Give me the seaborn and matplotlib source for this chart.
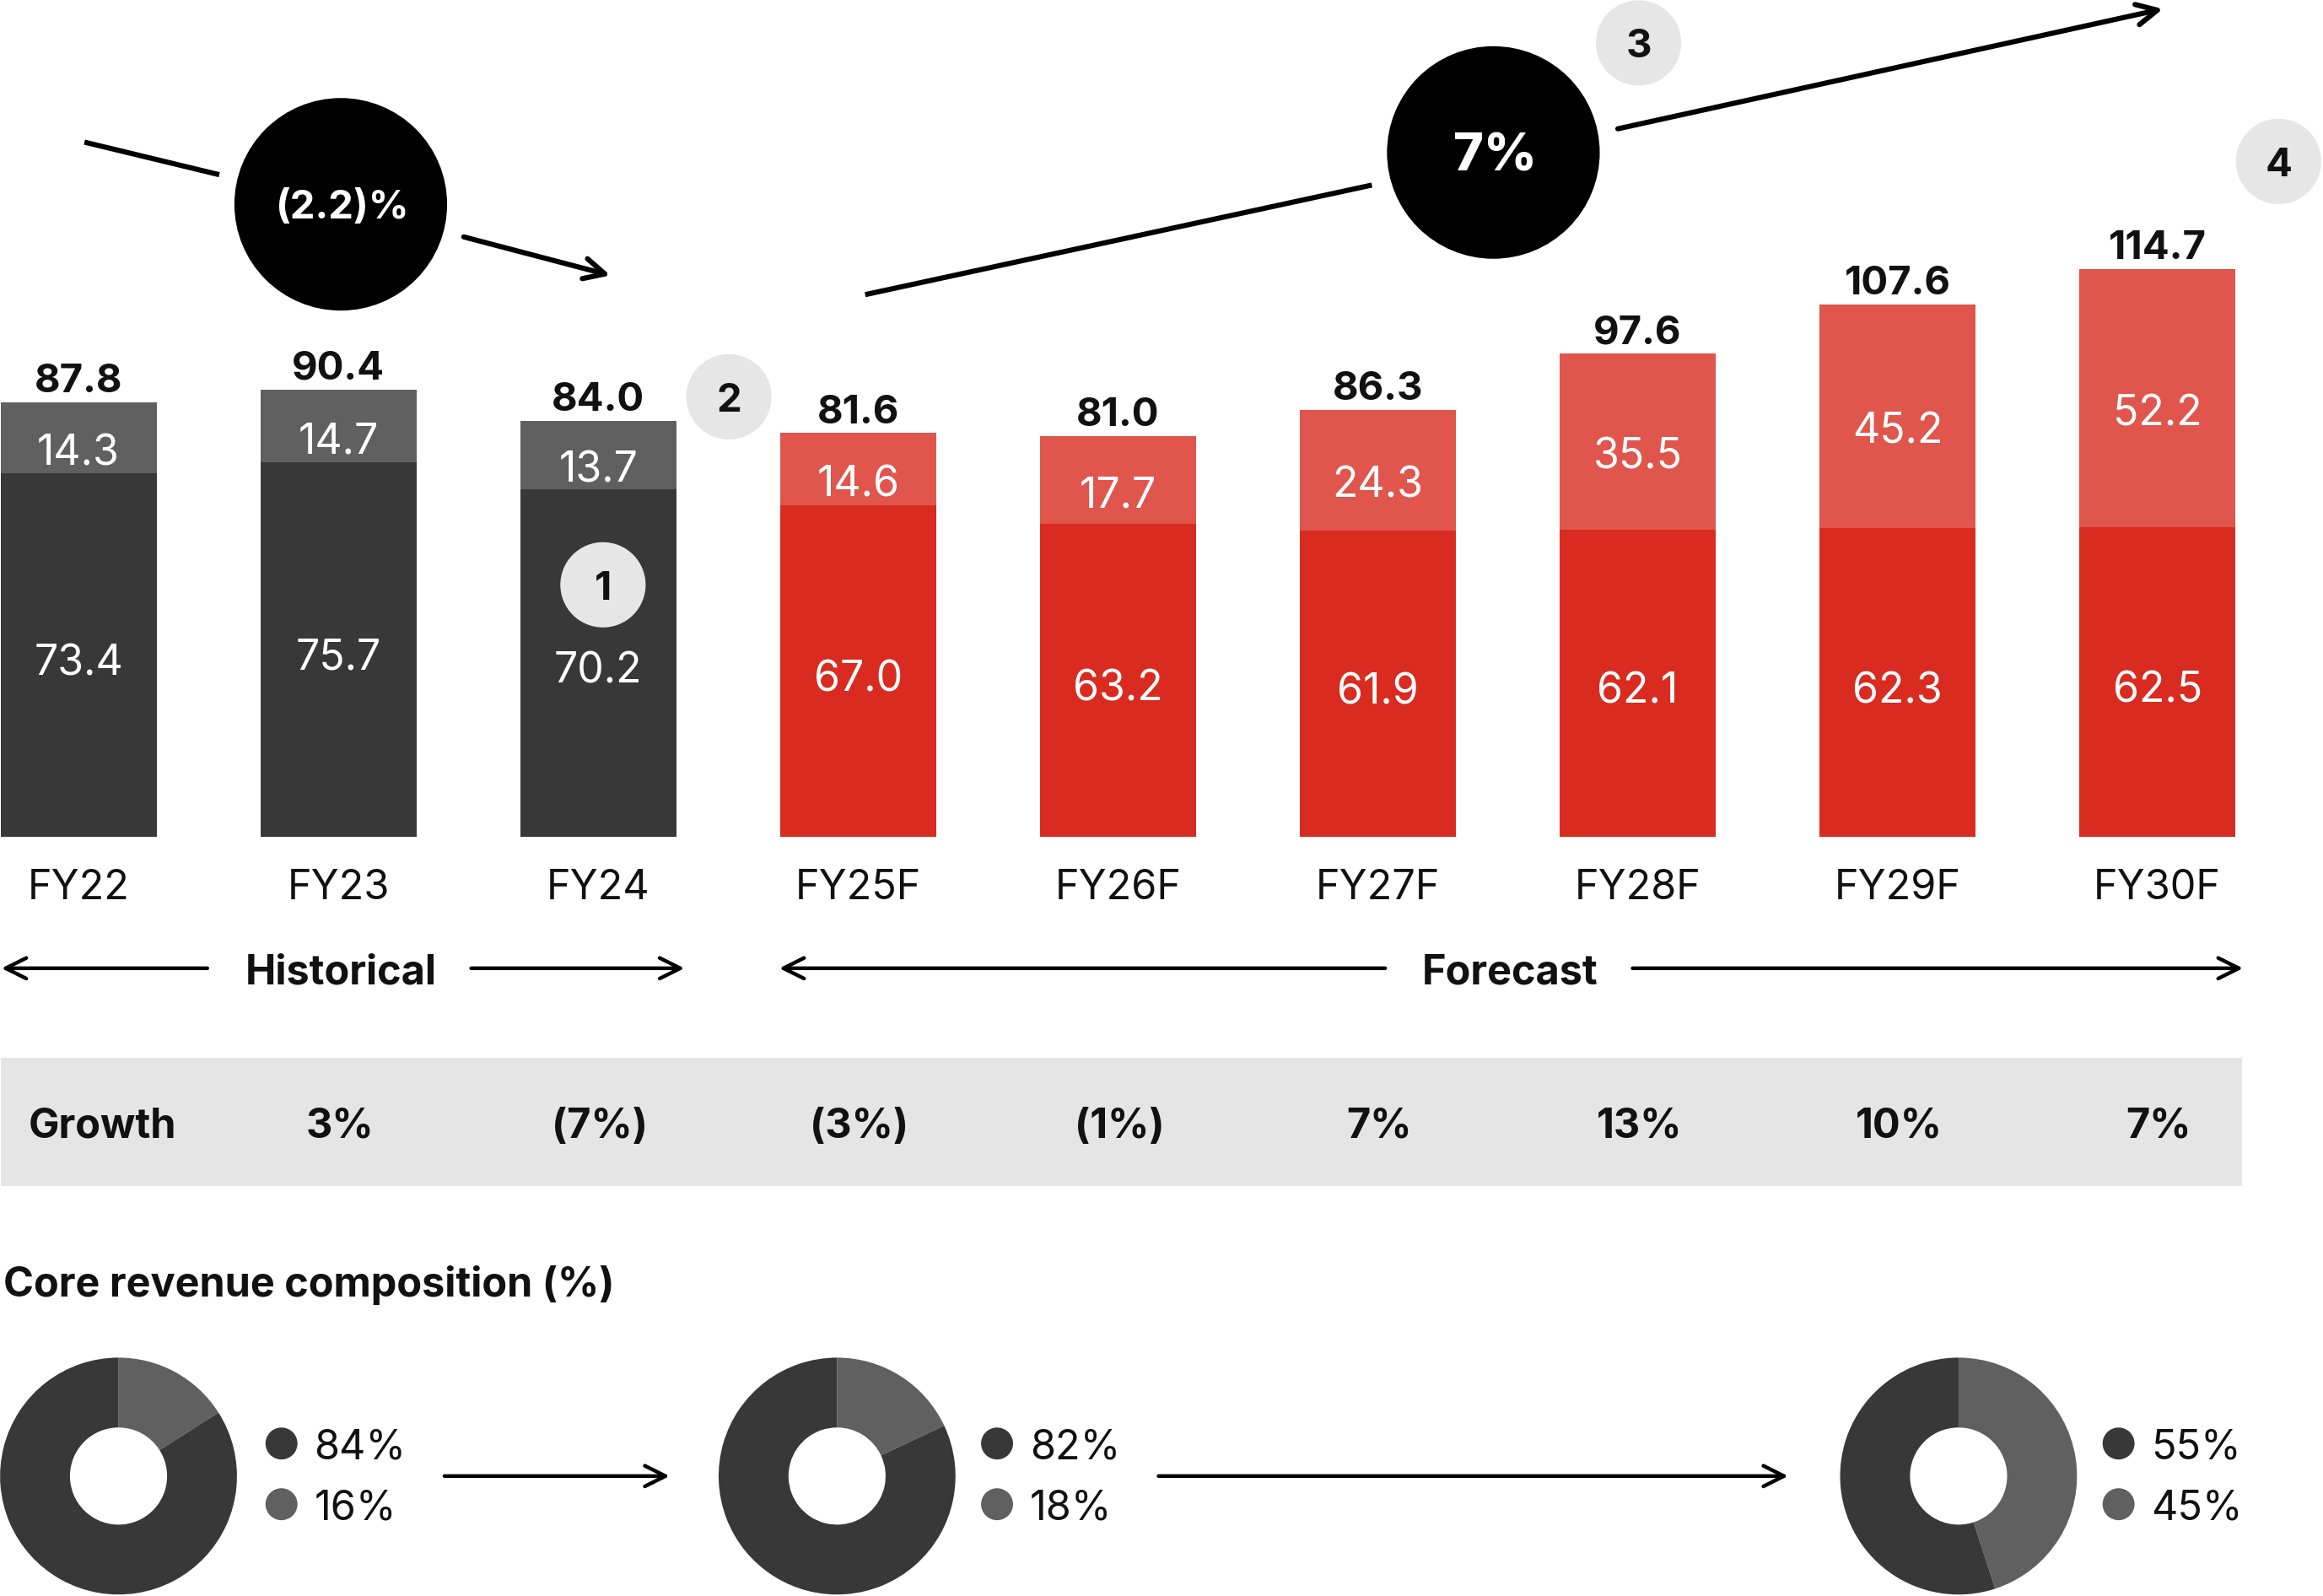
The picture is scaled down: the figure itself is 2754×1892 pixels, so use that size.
import matplotlib
matplotlib.use("Agg")
import matplotlib.pyplot as plt
import seaborn as sns
import pandas as pd
from matplotlib.patches import Circle, Rectangle

# ---------------- data ----------------
years = ["FY22", "FY23", "FY24", "FY25F", "FY26F", "FY27F", "FY28F", "FY29F", "FY30F"]
totals = [87.8, 90.4, 84.0, 81.6, 81.0, 86.3, 97.6, 107.6, 114.7]
base_vals = [73.4, 75.7, 70.2, 67.0, 63.2, 61.9, 62.1, 62.3, 62.5]
top_vals = [14.3, 14.7, 13.7, 14.6, 17.7, 24.3, 35.5, 45.2, 52.2]
is_forecast = [False, False, False, True, True, True, True, True, True]
growth_labels = ["3%", "(7%)", "(3%)", "(1%)", "7%", "13%", "10%", "7%"]  # FY23..FY30F
cagr_hist = "(2.2)%"
cagr_fcst = "7%"
donut_core = [84, 82, 55]
donut_other = [16, 18, 45]

# ---------------- style ----------------
sns.set_theme(style="white")
plt.rcParams["font.family"] = ["Inter", "DejaVu Sans"]

DARK = "#383838"
GREY = "#606060"
RED = "#D92B20"
LRED = "#E0554C"
BAND = "#E5E5E5"
BADGE = "#E6E6E6"
TXT = "#111111"

W, H = 1568.0, 1078.0
fig = plt.figure(figsize=(13.77, 9.46), dpi=200)
fig.patch.set_facecolor("white")

# bar axes geometry (display px -> data)
x0_px, step_px = 53.0, 175.4
base_px, k = 565.0, 3.34

ax = fig.add_axes([0, 1 - base_px / H, 1, base_px / H])
df = pd.DataFrame({"year": years, "total": totals, "base": base_vals, "top": top_vals})
top_colors = [LRED if f else GREY for f in is_forecast]
base_colors = [RED if f else DARK for f in is_forecast]
sns.barplot(data=df, x="year", y="total", hue="year", palette=top_colors, legend=False,
            width=0.6, ax=ax, saturation=1, linewidth=0)
sns.barplot(data=df, x="year", y="base", hue="year", palette=base_colors, legend=False,
            width=0.6, ax=ax, saturation=1, linewidth=0)
ax.set_xlim(-x0_px / step_px, (W - x0_px) / step_px)
ax.set_ylim(0, base_px / k)
ax.axis("off")

def py(px):  # display px (below baseline) -> bar data y
    return (base_px - px) / k

for i, (t, b, tp) in enumerate(zip(totals, base_vals, top_vals)):
    ax.text(i, t + 0.3, f"{t:.1f}", ha="center", va="bottom", fontsize=17,
            fontweight="bold", color=TXT)
    ax.text(i, b + (t - b) / 2 - 3.2, f"{tp:.1f}", ha="center", va="center", fontsize=18,
            fontweight="normal", color="white")
    ax.text(i, b / 2 - 1.8, f"{b:.1f}", ha="center", va="center", fontsize=18,
            fontweight="normal", color="white")
    ax.text(i, py(600), years[i], ha="center", va="center", fontsize=17.5,
            color=TXT, clip_on=False)

# ---------------- overlay axes ----------------
ov = fig.add_axes([0, 0, 1, 1], zorder=5)
ov.set_xlim(0, W)
ov.set_ylim(H, 0)
ov.axis("off")
ov.patch.set_alpha(0)

def arrow(x1, y1, x2, y2, lw=1.6):
    ov.annotate("", xy=(x2, y2), xytext=(x1, y1),
                arrowprops=dict(arrowstyle="->", lw=lw, color="black",
                                mutation_scale=22, shrinkA=0, shrinkB=0))

def line(x1, y1, x2, y2, lw=2.2):
    ov.plot([x1, x2], [y1, y2], color="black", lw=lw, solid_capstyle="butt")

# CAGR circles
ov.add_patch(Circle((230, 138), 71, color="black"))
ov.text(231, 141, cagr_hist, ha="center", va="center", color="white",
        fontsize=17, fontweight="bold")
line(57, 96, 148, 118)
ov.annotate("", xy=(412, 186), xytext=(313, 160),
            arrowprops=dict(arrowstyle="->", lw=2.2, color="black",
                            mutation_scale=22, shrinkA=0, shrinkB=0))

ov.add_patch(Circle((1008, 103), 71, color="black"))
ov.text(1009, 106, cagr_fcst, ha="center", va="center", color="white",
        fontsize=22, fontweight="heavy")
line(584, 199, 926, 125)
ov.annotate("", xy=(1460, 6), xytext=(1092, 87),
            arrowprops=dict(arrowstyle="->", lw=2.2, color="black",
                            mutation_scale=22, shrinkA=0, shrinkB=0))

# numbered badges
for (bx, by, lab) in [(407, 395, "1"), (492, 268, "2"), (1106, 29, "3"), (1538, 109, "4")]:
    ov.add_patch(Circle((bx, by), 28, color=BADGE))
    ov.text(bx, by + 3, lab, ha="center", va="center", fontsize=17,
            fontweight="bold", color=TXT)

# Historical / Forecast row
yrow = 654
arrow(140, yrow, 1, yrow)
arrow(318, yrow, 462, yrow)
ov.text(230, yrow + 3, "Historical", ha="center", va="center", fontsize=17.5,
        fontweight="bold", color=TXT)
arrow(935, yrow, 526, yrow)
arrow(1102, yrow, 1514, yrow)
ov.text(1019, yrow + 3, "Forecast", ha="center", va="center", fontsize=17.5,
        fontweight="bold", color=TXT)

# Growth band
ov.add_patch(Rectangle((1, 715), 1511, 85, color=BAND, zorder=0))
ov.text(19, 761, "Growth", ha="left", va="center", fontsize=17.5,
        fontweight="bold", color=TXT)
for i, g in enumerate(growth_labels, start=1):
    ov.text(x0_px + i * step_px + 1, 761, g, ha="center", va="center", fontsize=17.5,
            fontweight="bold", color=TXT)

# Core revenue composition
ov.text(2, 868, "Core revenue composition (%)", ha="left", va="center",
        fontsize=17.5, fontweight="bold", color=TXT)

donut_centers = [80, 565, 1322]
legend_x = [190, 673, 1430]
R = 80
for cx, lx, core, other in zip(donut_centers, legend_x, donut_core, donut_other):
    dax = fig.add_axes([(cx - R) / W, 1 - (997 + R) / H, 2 * R / W, 2 * R / H])
    dax.pie([other, core], colors=[GREY, DARK], startangle=90, counterclock=False,
            radius=1, wedgeprops=dict(width=0.59, linewidth=0))
    dax.set_xlim(-1, 1)
    dax.set_ylim(-1, 1)
    dax.set_aspect("equal")
    dax.axis("off")
    ov.add_patch(Circle((lx, 975), 10, color=DARK))
    ov.add_patch(Circle((lx, 1016), 10, color=GREY))
    ov.text(lx + 22, 978, f"{core}%", ha="left", va="center", fontsize=17.5, color=TXT)
    ov.text(lx + 22, 1019, f"{other}%", ha="left", va="center", fontsize=17.5, color=TXT)

arrow(300, 997, 452, 997)
arrow(782, 997, 1207, 997)

fig.savefig("out.png", dpi=200, facecolor="white")
